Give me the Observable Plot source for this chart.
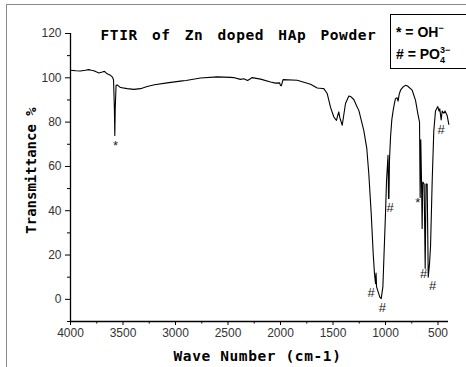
<!DOCTYPE html>
<html><head><meta charset="utf-8">
<script src="https://cdn.jsdelivr.net/npm/d3@7"></script>
<script src="https://cdn.jsdelivr.net/npm/@observablehq/plot@0.6"></script>
<style>
body{margin:0;background:#fff;}
#wrap{position:relative;width:466px;height:367px;overflow:hidden;background:#fff;}
#frame{position:absolute;left:6px;top:4px;width:700px;height:700px;border-left:1.6px solid #8a8a8a;border-top:1.6px solid #8a8a8a;}
#chart{position:absolute;left:0;top:0;}
#legend{position:absolute;left:390px;top:14px;width:120px;height:53px;border:1px solid #000;background:#fff;font:bold 14px "Liberation Sans",Arial,sans-serif;color:#000;}
#legend div{position:absolute;left:5px;line-height:14px;white-space:nowrap;}
#legend sup{font-size:9px;vertical-align:6px;line-height:0;}
#legend sub{font-size:9px;vertical-align:-4px;line-height:0;}
</style>
</head><body>
<div id="wrap"><div id="frame"></div><div id="chart"></div>
<div id="legend"><div style="top:10px">* = OH<sup>&minus;</sup></div><div style="top:32px">#&nbsp;= PO<sub>4</sub><sup style="margin-left:-5px">3&minus;</sup></div></div>
</div>
<script>
const titleText = "FTIR of Zn doped HAp Powder";
const xTitle = "Wave Number (cm-1)";
const yTitle = "Transmittance %";

const wavenumber = [4000,3950,3905,3860,3826,3800,3778,3750,3730,3698,3676,3651,3619,3600,3590,3582,3578,3574,3566,3555,3524,3460,3397,3333,3270,3200,3079,2936,2900,2762,2603,2476,2447,2381,2350,2314,2290,2270,2190,2095,2048,2008,2000,1992,1976,1841,1714,1650,1600,1588,1555,1524,1492,1467,1455,1445,1435,1412,1381,1349,1333,1302,1270,1254,1207,1178,1159,1136,1117,1105,1095,1090,1085,1054,1041,1025,1016,1000,990,976,971,967,962,952,940,927,915,905,890,880,870,857,830,810,790,746,714,692,676,670,664,657,651,645,632,622,614,603,593,581,571,555,540,524,502,490,483,470,460,444,433,413,397];
const transmittance = [103.4,103.2,103.1,103.4,103.7,103.4,103.2,102.6,102.2,102.6,102.9,101.8,101.1,100.3,99.0,86,74,86,96.6,96.8,95.6,95.1,94.8,95.1,96.1,96.9,97.7,98.6,98.8,99.9,100.4,100.2,100.1,99.3,99.6,98.8,99.5,100.1,99.4,98.1,97.6,97.7,96.5,96.4,99.2,98.9,97.1,95.4,95.2,95.1,92.9,86.8,82.3,80.8,83,84.6,82,78.6,88.4,91.8,91.6,90.2,86.8,85.3,76.3,68,56.7,38.7,20.6,11.6,7.1,11.9,5.6,1.0,0.3,5.6,17.6,38.7,53.7,65,45.5,45.5,63,73.3,81,85.3,88.5,90.6,91,89.5,92.5,94.4,96,96.6,96.3,94.4,89.8,83.8,80,46,72,53,32,53,52,14,52,52,10,16,24,54,76,85,87,85,86,81,85,84,85,83,79];

const markLabel = ["*","*","#","#","#","#","#","#"];
const markX = [3571,692,1136,1029,955,638,552,470];
const markY = [69.5,43.7,3.0,-3.7,41.1,11.6,6.3,76.6];

const xMajor = [4000,3500,3000,2500,2000,1500,1000,500];
const xMinor = [3750,3250,2750,2250,1750,1250,750];
const yMajor = [0,20,40,60,80,100,120];
const yMinor = [-10,10,30,50,70,90,110];

const spectrum = wavenumber.map((w,i)=>({w, t: transmittance[i]}));
const marks = markLabel.map((s,i)=>({s, x: markX[i], y: markY[i]}));
const mono = "'DejaVu Sans Mono', monospace";

const chart = Plot.plot({
  width: 466, height: 367,
  marginLeft: 70, marginRight: 18, marginTop: 33, marginBottom: 46,
  style: {background: "transparent", fontFamily: "'Liberation Sans', Arial, sans-serif", fontSize: "12px", color: "#000"},
  x: {domain: [4000, 400]},
  y: {domain: [-10, 120]},
  marks: [
    Plot.axisX(xMajor, {tickSize: 4, tickPadding: 3, tickFormat: d => String(d), fill: "#333", fontSize: 12, label: null}),
    Plot.axisX(xMinor, {tickSize: 2.5, tickFormat: () => "", label: null}),
    Plot.axisY(yMajor, {tickSize: 5, tickPadding: 4, tickFormat: d => String(d), fill: "#333", fontSize: 12, label: null}),
    Plot.axisY(yMinor, {tickSize: 3, tickFormat: () => "", label: null}),
    Plot.ruleY([-10], {stroke: "#000", strokeWidth: 1.3}),
    Plot.ruleX([4000], {stroke: "#000", strokeWidth: 1.3}),
    Plot.line(spectrum, {x: "w", y: "t", stroke: "#000", strokeWidth: 1.1}),
    Plot.text(marks, {x: "x", y: "y", text: "s", fontSize: 13, fill: "#222"}),
    Plot.text([titleText], {frameAnchor: "top-left", textAnchor: "start", lineAnchor: "middle", dx: 30, dy: 1.7, fontFamily: mono, fontWeight: "bold", fontSize: 14.5, fill: "#000"}),
    Plot.text([xTitle], {frameAnchor: "bottom", textAnchor: "middle", lineAnchor: "middle", dx: -2, dy: 34.4, fontFamily: mono, fontWeight: "bold", fontSize: 14.5, fill: "#000"}),
    Plot.text([yTitle], {frameAnchor: "top-left", textAnchor: "middle", lineAnchor: "middle", rotate: -90, dx: -38.5, dy: 137, fontFamily: mono, fontWeight: "bold", fontSize: 14, fill: "#000"})
  ]
});
const sel = d3.select(chart).selectAll("text");
sel.filter(function(){ return this.textContent === titleText; }).style("letter-spacing", "0.6px").style("word-spacing", "4.8px");
sel.filter(function(){ return this.textContent === xTitle; }).style("letter-spacing", "0.6px");
document.getElementById("chart").appendChild(chart);
</script>
</body></html>
